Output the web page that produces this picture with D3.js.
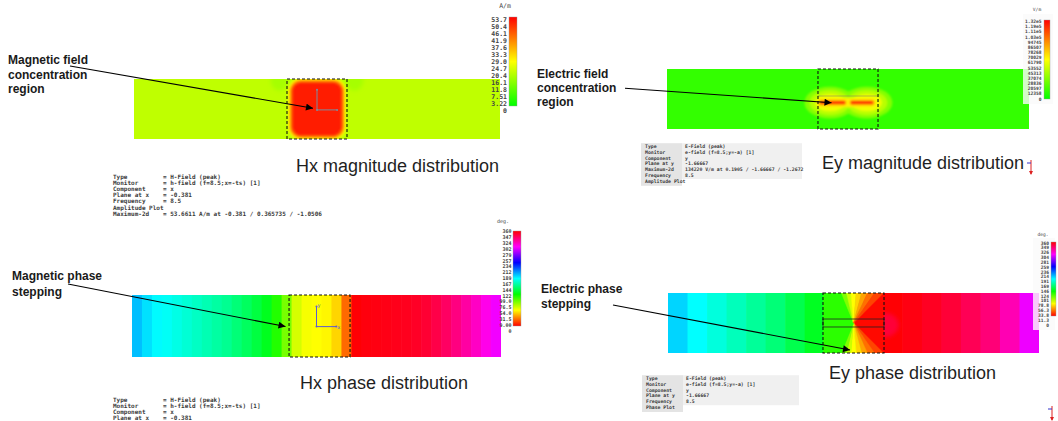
<!DOCTYPE html>
<html>
<head>
<meta charset="utf-8">
<script src="https://cdn.jsdelivr.net/npm/d3@7"></script>
<style>
  html, body { margin: 0; padding: 0; background: #fff; }
  svg { display: block; }
</style>
</head>
<body>
<svg id="fig" width="1058" height="421"></svg>
<script>
// ---------- colour-bar tick labels ----------
const hxMagTicks   = ["53.7","50.4","46.1","41.9","37.6","33.3","29.0","24.7","20.4","16.1","11.8","7.51","3.22","0"];
const eyMagTicks   = ["1.32e5","1.19e5","1.11e5","1.03e5","94745","86507","78268","70029","61790","53552","45313","37074","28836","20597","12358","0"];
const hxPhaseTicks = ["360","347","324","302","279","257","234","212","189","167","144","122","99.0","76.5","54.0","31.5","9.00","0"];
const eyPhaseTicks = ["360","349","326","304","281","259","236","214","191","169","146","124","101","78.8","56.3","33.8","11.3","0"];

// ---------- field maxima ----------
const hxMax = 53.7;      // A/m
const eyMax = 132000;    // V/m

// ---------- Hx magnitude (A/m), coordinates in mm ----------
const hxBackground = 20.1;
const hxEdgeLobes = [ {x: -12.5, y: 9.6, rx: 3, ry: 3.5, v: 17.5}, {x: 12.5, y: 9.6, rx: 3, ry: 3.5, v: 17.5} ];
const hxCoreContours = [
  {v: 27, hw: 9.7, hh: 10.3, r: 4.5},
  {v: 33, hw: 9.3, hh: 9.9,  r: 4.0},
  {v: 40, hw: 8.9, hh: 9.5,  r: 3.6},
  {v: 47, hw: 8.5, hh: 9.1,  r: 3.2},
  {v: 51, hw: 8.0, hh: 8.7,  r: 3.0}
];

// ---------- Ey magnitude (V/m) ----------
const eyBackground = 13200;
const eyLobeCentres = [-6, 6.3];
const eyLobeLevels = [
  {v: 34000, rx: 8.5, ry: 5.3},
  {v: 48000, rx: 6.8, ry: 4.1},
  {v: 62000, rx: 5.0, ry: 2.9}
];
const eyStripY = -1.2;
const eyStripLevels = [
  {v: 70000,  h: 3.0, segs: [[-10.3, 9.3]]},
  {v: 94000,  h: 1.7, segs: [[-9.8, -0.6], [0.6, 8.8]]},
  {v: 128000, h: 0.8, segs: [[-9.3, -0.9], [0.9, 8.3]]}
];

// ---------- phase (deg) per column, left to right ----------
const hxPhaseCols = [195,187,181,178,174,170,166,162,158,154,148,142,135,127,112,92,70,62,60,58,
                     50,25,359,357,356,355,354,353,351,348,343,337,330,322,314,305,297];
const eyPhaseCols = [190,180,172,164,156,148,138,128,112,100,10,359,356,352,347,340,332,318,296];
// phase around the gap edge: angle range (deg, clockwise from +x) and phase
const eyFanWedges = [
  {a0: -45, a1: 45,  deg: 2},
  {a0: 45,  a1: 55,  deg: 16}, {a0: 55, a1: 65, deg: 26}, {a0: 65, a1: 75, deg: 38},
  {a0: 75,  a1: 85,  deg: 50}, {a0: 85, a1: 95, deg: 60}, {a0: 95, a1: 103, deg: 72},
  {a0: 103, a1: 112, deg: 90}, {a0: 112, a1: 248, deg: 110},
  {a0: 248, a1: 257, deg: 90}, {a0: 257, a1: 265, deg: 72}, {a0: 265, a1: 275, deg: 60},
  {a0: 275, a1: 285, deg: 50}, {a0: 285, a1: 295, deg: 38}, {a0: 295, a1: 305, deg: 26},
  {a0: 305, a1: 315, deg: 16}
];
const eyPhaseBlob = {x: 10.3, y: -0.7, rx: 4.5, ry: 4, deg: 347};

const boxHalf = 10;      // half size of the dashed region (mm)
const gapHalf = 1.33;    // half height of the gap outline (mm)

// ---------- info blocks ----------
const hxMagInfo = [["Type","= H-Field (peak)"],["Monitor","= h-field (f=8.5;x=-ts) [1]"],["Component","= x"],
  ["Plane at x","= -0.381"],["Frequency","= 8.5"],["Amplitude Plot",""],
  ["Maximum-2d","= 53.6611 A/m at -0.381 / 0.365735 / -1.0506"]];
const eyMagInfo = [["Type","E-Field (peak)"],["Monitor","e-field (f=8.5;y=-a) [1]"],["Component","y"],
  ["Plane at y","-1.66667"],["Maximum-2d","134220 V/m at 0.1905 / -1.66667 / -1.2672"],["Frequency","8.5"],
  ["Amplitude Plot",""]];
const hxPhaseInfo = [["Type","= H-Field (peak)"],["Monitor","= h-field (f=8.5;x=-ts) [1]"],["Component","= x"],
  ["Plane at x","= -0.381"]];
const eyPhaseInfo = [["Type","E-Field (peak)"],["Monitor","e-field (f=8.5;y=-a) [1]"],["Component","y"],
  ["Plane at y","-1.66667"],["Frequency","8.5"],["Phase Plot",""]];

// ---------- helpers ----------
const svg = d3.select("#fig");
const defs = svg.append("defs");
defs.append("filter").attr("id","soft").attr("x","-20%").attr("y","-20%").attr("width","140%").attr("height","140%")
  .append("feGaussianBlur").attr("stdDeviation", 1.0);
defs.append("filter").attr("id","soft2").attr("x","-30%").attr("y","-30%").attr("width","160%").attr("height","160%")
  .append("feGaussianBlur").attr("stdDeviation", 2);
defs.append("marker").attr("id","head").attr("viewBox","0 0 10 10").attr("refX",10).attr("refY",5)
  .attr("markerWidth",9).attr("markerHeight",7).attr("markerUnits","userSpaceOnUse").attr("orient","auto")
  .append("path").attr("d","M0,0L10,5L0,10z").attr("fill","#000");

const magColor = (v, vmax) => d3.hsl(120 * (1 - Math.max(0, Math.min(1, v / vmax))), 1, 0.5).formatHex();
const phaseColor = deg => d3.hsl(((deg % 360) + 360) % 360, 1, 0.5).formatHex();

function makePanel(id, frame, xDomain) {
  const x = d3.scaleLinear().domain(xDomain).range([frame.left, frame.left + frame.width]);
  const y = d3.scaleLinear().domain([10, -10]).range([frame.top, frame.top + frame.height]);
  defs.append("clipPath").attr("id", id).append("rect")
    .attr("x", frame.left).attr("y", frame.top).attr("width", frame.width).attr("height", frame.height);
  const g = svg.append("g").attr("clip-path", `url(#${id})`);
  const top = svg.append("g");
  const sx = d => x(d) - x(0), sy = d => y(0) - y(d);
  return {x, y, g, top, sx, sy, xDomain};
}

function dashedBox(P) {
  P.top.append("rect")
    .attr("x", P.x(-boxHalf)).attr("y", P.y(boxHalf))
    .attr("width", P.x(boxHalf) - P.x(-boxHalf)).attr("height", P.y(-boxHalf) - P.y(boxHalf))
    .attr("fill", "none").attr("stroke", "#111").attr("stroke-width", 1.1).attr("stroke-dasharray", "3,2");
}

function colourBar(ticks, colourOf, opt) {
  const gid = "grad" + opt.id;
  const grad = defs.append("linearGradient").attr("id", gid).attr("x1",0).attr("y1",0).attr("x2",0).attr("y2",1);
  const n = 24;
  d3.range(n + 1).forEach(i => grad.append("stop").attr("offset", i / n).attr("stop-color", colourOf(1 - i / n)));
  const g = svg.append("g");
  if (opt.panel) g.append("rect").attr("x", opt.panel[0]).attr("y", opt.panel[1]).attr("width", opt.panel[2])
    .attr("height", opt.panel[3]).attr("fill", "#fafafa").attr("opacity", 0.8);
  g.append("rect").attr("x", opt.barX).attr("y", opt.barY0).attr("width", opt.barW)
    .attr("height", opt.barY1 - opt.barY0).attr("fill", `url(#${gid})`).attr("stroke", "#999").attr("stroke-width", 0.4);
  const ys = d3.scalePoint().domain(ticks).range(opt.labelRange);
  g.selectAll("text.tick").data(ticks).join("text").attr("class","tick")
    .attr("x", opt.labelX).attr("y", d => ys(d)).attr("dy", "0.35em").attr("text-anchor","end")
    .attr("font-family","DejaVu Sans Mono").attr("font-weight","bold").attr("font-size", opt.fontSize)
    .attr("fill","#444").text(d => d);
  g.append("text").attr("x", opt.unitX).attr("y", opt.unitY).attr("text-anchor","middle")
    .attr("font-family","DejaVu Sans Mono").attr("font-size", opt.fontSize).attr("fill","#444").text(opt.unit);
}

function infoBlock(rows, opt) {
  const g = svg.append("g").attr("font-family","DejaVu Sans Mono").attr("font-weight","bold")
    .attr("font-size", opt.fontSize).attr("fill","#3a3a3a");
  if (opt.shade) {
    g.append("rect").attr("x", opt.x - 4).attr("y", opt.y - opt.step + 1).attr("width", opt.vx - opt.x + 1)
      .attr("height", rows.length * opt.step + 2).attr("fill", "#e4e4e4");
    g.append("rect").attr("x", opt.vx - 3).attr("y", opt.y - opt.step + 1).attr("width", opt.shade)
      .attr("height", (rows.length - 1) * opt.step + 1).attr("fill", "#f0f0f0");
  }
  const r = g.selectAll("g.row").data(rows).join("g").attr("class","row")
    .attr("transform", (d, i) => `translate(0,${opt.y + i * opt.step})`);
  r.append("text").attr("x", opt.x).text(d => d[0]);
  r.append("text").attr("x", opt.vx).text(d => d[1]);
}

function noteText(lines, x, y0, step) {
  svg.append("g").attr("font-family","Liberation Sans, Arial").attr("font-weight","bold")
    .attr("font-size", 12).attr("fill","#1a1a1a")
    .selectAll("text").data(lines).join("text").attr("x", x).attr("y", (d, i) => y0 + i * step).text(d => d);
}
function arrow(x1, y1, x2, y2) {
  svg.append("line").attr("x1",x1).attr("y1",y1).attr("x2",x2).attr("y2",y2)
    .attr("stroke","#000").attr("stroke-width",1.1).attr("marker-end","url(#head)");
}
function title(t, x, y) {
  svg.append("text").attr("x", x).attr("y", y).attr("font-family","Liberation Sans, Arial")
    .attr("font-size", 18).attr("fill","#1f1f1f").text(t);
}
function triad(P, ox, oy, len, colour, labels) {
  const g = P.top.append("g").attr("stroke", colour).attr("stroke-width", 1);
  g.append("line").attr("x1",P.x(ox)).attr("y1",P.y(oy)).attr("x2",P.x(ox)).attr("y2",P.y(oy + len));
  g.append("line").attr("x1",P.x(ox)).attr("y1",P.y(oy)).attr("x2",P.x(ox + len)).attr("y2",P.y(oy));
  [[ox, oy], [ox, oy + len], [ox + len, oy]].forEach(p =>
    P.top.append("circle").attr("cx", P.x(p[0])).attr("cy", P.y(p[1])).attr("r", 1).attr("fill", colour));
  if (labels) {
    P.top.append("text").attr("x", P.x(ox) + 1).attr("y", P.y(oy + len) + 1).attr("font-size", 5)
      .attr("font-family","DejaVu Sans").attr("fill", colour).text("y");
    P.top.append("text").attr("x", P.x(ox + len) + 1).attr("y", P.y(oy) + 2).attr("font-size", 5)
      .attr("font-family","DejaVu Sans").attr("fill", colour).text("x");
  }
}

// ===== Hx magnitude =====
const A = makePanel("clipA", {left: 134, top: 79, width: 366, height: 60}, [-61, 61]);
A.g.append("rect").attr("x", A.x(-61)).attr("y", A.y(10)).attr("width", A.x(61) - A.x(-61))
  .attr("height", A.y(-10) - A.y(10)).attr("fill", magColor(hxBackground, hxMax));
A.g.append("g").attr("filter","url(#soft2)").selectAll("ellipse").data(hxEdgeLobes).join("ellipse")
  .attr("cx", d => A.x(d.x)).attr("cy", d => A.y(d.y)).attr("rx", d => A.sx(d.rx)).attr("ry", d => A.sy(d.ry))
  .attr("fill", d => magColor(d.v, hxMax));
A.g.append("g").attr("filter","url(#soft)").selectAll("rect").data(hxCoreContours).join("rect")
  .attr("x", d => A.x(-d.hw)).attr("y", d => A.y(d.hh)).attr("width", d => A.x(d.hw) - A.x(-d.hw))
  .attr("height", d => A.y(-d.hh) - A.y(d.hh)).attr("rx", d => A.sx(d.r))
  .attr("fill", d => magColor(d.v, hxMax));
dashedBox(A);
triad(A, 0, -0.3, 6.7, "#7f8a9c", false);

// ===== Ey magnitude =====
const B = makePanel("clipB", {left: 667, top: 69, width: 362, height: 60}, [-60.3, 60.3]);
B.g.append("rect").attr("x", B.x(-60.3)).attr("y", B.y(10)).attr("width", B.x(60.3) - B.x(-60.3))
  .attr("height", B.y(-10) - B.y(10)).attr("fill", magColor(eyBackground, eyMax));
const glow = B.g.append("g").attr("filter","url(#soft)");
eyLobeLevels.forEach(lv => {
  glow.selectAll(null).data(eyLobeCentres).join("ellipse")
    .attr("cx", d => B.x(d)).attr("cy", B.y(eyStripY)).attr("rx", B.sx(lv.rx)).attr("ry", B.sy(lv.ry))
    .attr("fill", magColor(lv.v, eyMax));
});
const strip = B.g.append("g").attr("filter","url(#soft)");
eyStripLevels.forEach(lv => {
  strip.selectAll(null).data(lv.segs).join("rect")
    .attr("x", d => B.x(d[0])).attr("width", d => B.x(d[1]) - B.x(d[0]))
    .attr("y", B.y(eyStripY + lv.h / 2)).attr("height", B.sy(lv.h))
    .attr("rx", B.sy(lv.h) / 2).attr("fill", magColor(lv.v, eyMax));
});
B.g.append("line").attr("x1", B.x(-boxHalf)).attr("x2", B.x(boxHalf)).attr("y1", B.y(1)).attr("y2", B.y(1))
  .attr("stroke", "#8a8a60").attr("stroke-width", 0.6);
dashedBox(B);

// ===== Hx phase =====
const C = makePanel("clipC", {left: 132, top: 295, width: 369, height: 62}, [-61.5, 59.5]);
const cBand = d3.scaleBand().domain(d3.range(hxPhaseCols.length)).range([C.x(-61.5), C.x(59.5)]);
C.g.selectAll("rect.col").data(hxPhaseCols).join("rect").attr("class","col")
  .attr("x", (d, i) => cBand(i)).attr("width", cBand.bandwidth() + 0.6)
  .attr("y", C.y(10)).attr("height", C.y(-10) - C.y(10)).attr("fill", d => phaseColor(d));
dashedBox(C);
triad(C, -1, -0.2, 6.5, "#5c5cd0", true);

// ===== Ey phase =====
const D = makePanel("clipD", {left: 668, top: 293, width: 371, height: 60}, [-60.8, 60.8]);
const dBand = d3.scaleBand().domain(d3.range(eyPhaseCols.length)).range([D.x(-60.8), D.x(60.8)]);
D.g.selectAll("rect.col").data(eyPhaseCols).join("rect").attr("class","col")
  .attr("x", (d, i) => dBand(i)).attr("width", dBand.bandwidth() + 0.6)
  .attr("y", D.y(10)).attr("height", D.y(-10) - D.y(10)).attr("fill", d => phaseColor(d));
D.g.append("ellipse").attr("filter","url(#soft2)")
  .attr("cx", D.x(eyPhaseBlob.x)).attr("cy", D.y(eyPhaseBlob.y)).attr("rx", D.sx(eyPhaseBlob.rx))
  .attr("ry", D.sy(eyPhaseBlob.ry)).attr("fill", phaseColor(eyPhaseBlob.deg));
defs.append("clipPath").attr("id","clipFan").append("rect")
  .attr("x", D.x(-boxHalf)).attr("y", D.y(boxHalf)).attr("width", D.x(boxHalf) - D.x(-boxHalf))
  .attr("height", D.y(-boxHalf) - D.y(boxHalf));
const fanArc = d3.arc().innerRadius(0).outerRadius(80)
  .startAngle(d => (d.a0 + 90) * Math.PI / 180).endAngle(d => (d.a1 + 90) * Math.PI / 180);
D.g.append("g").attr("clip-path","url(#clipFan)").append("g")
  .attr("transform", `translate(${D.x(0)},${D.y(0)})`)
  .selectAll("path").data(eyFanWedges).join("path")
  .attr("d", fanArc).attr("fill", d => phaseColor(d.deg)).attr("stroke", d => phaseColor(d.deg)).attr("stroke-width", 0.5);
D.top.append("rect").attr("x", D.x(-boxHalf)).attr("y", D.y(gapHalf))
  .attr("width", D.x(boxHalf) - D.x(-boxHalf)).attr("height", D.y(-gapHalf) - D.y(gapHalf))
  .attr("fill","none").attr("stroke","#222").attr("stroke-width", 0.8);
dashedBox(D);

// ===== colour bars =====
colourBar(hxMagTicks, t => magColor(t * hxMax, hxMax),
  {id: "A", barX: 509, barY0: 17, barY1: 106, barW: 8, labelX: 507, labelRange: [19.5, 110.5],
   fontSize: 6.5, unit: "A/m", unitX: 505, unitY: 8});
colourBar(eyMagTicks, t => magColor(t * eyMax, eyMax),
  {id: "B", barX: 1044, barY0: 20, barY1: 99, barW: 6, labelX: 1041.5, labelRange: [21.5, 99],
   fontSize: 4.6, unit: "V/m", unitX: 1037, unitY: 11, panel: [1023, 14, 30, 90]});
colourBar(hxPhaseTicks, t => phaseColor(t * 360),
  {id: "C", barX: 513, barY0: 231, barY1: 326, barW: 8, labelX: 511.5, labelRange: [231.5, 331],
   fontSize: 5, unit: "deg.", unitX: 503, unitY: 223});
colourBar(eyPhaseTicks, t => phaseColor(t * 360),
  {id: "D", barX: 1051, barY0: 242, barY1: 316, barW: 5, labelX: 1049, labelRange: [243, 325],
   fontSize: 4.6, unit: "deg.", unitX: 1043, unitY: 236, panel: [1033, 238, 22, 92]});

// ===== info blocks =====
infoBlock(hxMagInfo,   {x: 113, vx: 163, y: 179, step: 6.1, fontSize: 6});
infoBlock(eyMagInfo,   {x: 645, vx: 685, y: 148, step: 5.8, fontSize: 4.8, shade: 120});
infoBlock(hxPhaseInfo, {x: 113, vx: 163, y: 402, step: 6.1, fontSize: 6});
infoBlock(eyPhaseInfo, {x: 646, vx: 686, y: 380, step: 5.8, fontSize: 4.8, shade: 116});

// ===== titles =====
title("Hx magnitude distribution", 296, 172);
title("Ey magnitude distribution", 822, 169);
title("Hx phase distribution", 300, 389);
title("Ey phase distribution", 829, 379);

// ===== annotations =====
noteText(["Magnetic field", "concentration", "region"], 8, 64, 14.5);
noteText(["Electric field", "concentration", "region"], 537, 77.5, 14.2);
noteText(["Magnetic phase", "stepping"], 12, 280, 15.5);
noteText(["Electric phase", "stepping"], 541, 293, 15);
arrow(70, 66, 313, 108.3);
arrow(625, 88.3, 831.5, 102.7);
arrow(68, 284, 285.5, 326.5);
arrow(613, 305, 850, 350);

// ===== small orientation marks at the right edge =====
[[1031, 160], [1052, 406]].forEach(p => {
  const g = svg.append("g");
  g.append("line").attr("x1", p[0]).attr("y1", p[1]).attr("x2", p[0]).attr("y2", p[1] + 14)
    .attr("stroke", "#d22").attr("stroke-width", 1);
  g.append("path").attr("d", `M${p[0] - 2},${p[1] + 11}L${p[0]},${p[1] + 15}L${p[0] + 2},${p[1] + 11}z`).attr("fill", "#d22");
  g.append("line").attr("x1", p[0] - 4).attr("y1", p[1] + 3).attr("x2", p[0]).attr("y2", p[1] + 3)
    .attr("stroke", "#33c").attr("stroke-width", 1);
});
</script>
</body>
</html>
